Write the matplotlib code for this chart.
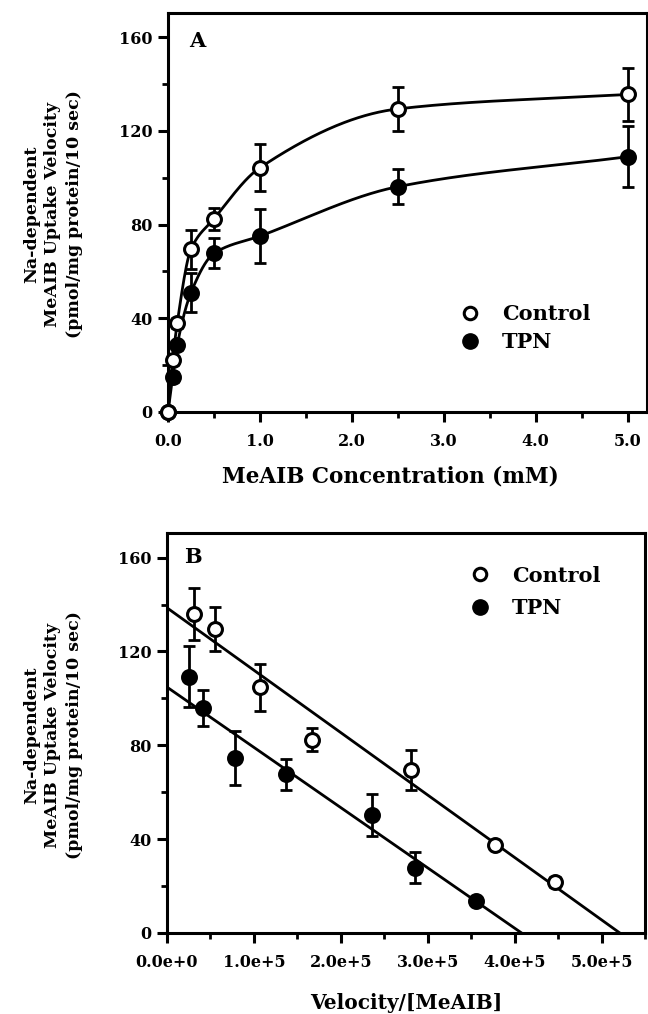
import numpy as np
import matplotlib
matplotlib.use("Agg")
import matplotlib.pyplot as plt
from matplotlib.lines import Line2D
from matplotlib.ticker import MultipleLocator

# Panel A: uptake vs concentration
conc = [0.0, 0.05, 0.1, 0.25, 0.5, 1.0, 2.5, 5.0]
ctrl_v = [0.0, 22, 38, 69.5, 82.5, 104.3, 129.4, 135.6]
ctrl_err = [0, 2, 2, 8.3, 4.6, 10, 9.5, 11.2]
tpn_v = [0.0, 15, 28.5, 51, 67.7, 75.1, 96.2, 109]
tpn_err = [0, 2, 2, 8.5, 6.4, 11.5, 7.4, 13]

# Panel B: Eadie-Hofstee
ctrl_bx = [0.306e5, 0.553e5, 1.073e5, 1.674e5, 2.81e5, 3.776e5, 4.47e5]
ctrl_by = [136.0, 129.6, 104.8, 82.4, 69.3, 37.6, 21.7]
ctrl_berr = [11, 9.5, 10, 5, 8.5, 1.5, 2]
tpn_bx = [0.256e5, 0.41e5, 0.78e5, 1.367e5, 2.356e5, 2.85e5, 3.56e5]
tpn_by = [109.3, 96.0, 74.7, 67.6, 50.4, 27.9, 13.6]
tpn_berr = [13, 7.6, 11.5, 6.5, 9, 6.5, 1.5]

# fitted lines: y-intercept and x-intercept
ctrl_fit = [138.6, 5.21e5]
tpn_fit = [104.8, 4.08e5]

xticks_a = [0, 1, 2, 3, 4, 5]
xticklabels_a = ["0.0", "1.0", "2.0", "3.0", "4.0", "5.0"]
xticks_b = [0, 1e5, 2e5, 3e5, 4e5, 5e5]
xticklabels_b = ["0.0e+0", "1.0e+5", "2.0e+5", "3.0e+5", "4.0e+5", "5.0e+5"]
yticks = [0, 40, 80, 120, 160]

plt.rcParams["font.family"] = "DejaVu Serif"
plt.rcParams["font.weight"] = "bold"


def pchip(x, y, xs):
    # monotone cubic curve through the points
    x = np.asarray(x, float)
    y = np.asarray(y, float)
    h = np.diff(x)
    d = np.diff(y) / h
    m = np.zeros_like(y)
    for k in range(1, len(x) - 1):
        if d[k - 1] * d[k] > 0:
            w1 = 2 * h[k] + h[k - 1]
            w2 = h[k] + 2 * h[k - 1]
            m[k] = (w1 + w2) / (w1 / d[k - 1] + w2 / d[k])
    m[0] = d[0]
    m[-1] = d[-1]
    out = np.empty_like(xs)
    for i, xv in enumerate(xs):
        k = min(np.searchsorted(x, xv, side="right") - 1, len(x) - 2)
        t = (xv - x[k]) / h[k]
        h00 = 2 * t**3 - 3 * t**2 + 1
        h10 = t**3 - 2 * t**2 + t
        h01 = -2 * t**3 + 3 * t**2
        h11 = t**3 - t**2
        out[i] = h00 * y[k] + h10 * h[k] * m[k] + h01 * y[k + 1] + h11 * h[k] * m[k + 1]
    return out


fig = plt.figure(figsize=(6.48, 10.14), dpi=100)
axA = fig.add_axes([0.2593, 0.5937, 0.739, 0.3938])
axB = fig.add_axes([0.2577, 0.0799, 0.7377, 0.3945])

mk = dict(markersize=10, markeredgewidth=2.2, markeredgecolor="black")
eb = dict(fmt="none", ecolor="black", elinewidth=2, capsize=4, capthick=2)


def style(ax):
    for s in ax.spines.values():
        s.set_linewidth(2.2)
    ax.tick_params(which="major", direction="out", length=7, width=2.2,
                   labelsize=11.5, pad=4)
    ax.tick_params(axis="x", which="major", pad=8)
    ax.tick_params(which="minor", direction="out", length=4, width=2)
    ax.yaxis.set_minor_locator(MultipleLocator(20))
    ax.set_yticks(yticks)
    ax.set_ylim(0, 170.5)
    for lab in ax.get_xticklabels() + ax.get_yticklabels():
        lab.set_fontweight("bold")


# ---- Panel A
xs = np.linspace(0, 5, 400)
axA.plot(xs, pchip(conc, ctrl_v, xs), color="black", lw=2)
axA.plot(xs, pchip(conc, tpn_v, xs), color="black", lw=2)
axA.errorbar(conc, ctrl_v, yerr=ctrl_err, **eb)
axA.errorbar(conc, tpn_v, yerr=tpn_err, **eb)
axA.plot(conc, tpn_v, "o", color="black", clip_on=False, zorder=5, **mk)
axA.plot(conc, ctrl_v, "o", markerfacecolor="white", clip_on=False, zorder=6, **mk)
axA.set_xlim(0, 5.21)
axA.set_xticks(xticks_a)
axA.set_xticklabels(xticklabels_a)
axA.xaxis.set_minor_locator(MultipleLocator(0.5))
style(axA)
axA.set_xlabel("MeAIB Concentration (mM)", fontsize=15.5, fontweight="bold", labelpad=10)
axA.xaxis.set_label_coords(0.465, -0.135)
axA.text(0.06, 0.93, "A", transform=axA.transAxes, fontsize=15, fontweight="bold",
         va="center", ha="center")

# ---- Panel B
for fit in (ctrl_fit, tpn_fit):
    axB.plot([0, fit[1]], [fit[0], 0], color="black", lw=2)
axB.errorbar(ctrl_bx, ctrl_by, yerr=ctrl_berr, **eb)
axB.errorbar(tpn_bx, tpn_by, yerr=tpn_berr, **eb)
axB.plot(tpn_bx, tpn_by, "o", color="black", zorder=5, **mk)
axB.plot(ctrl_bx, ctrl_by, "o", markerfacecolor="white", zorder=6, **mk)
axB.set_xlim(0, 5.5e5)
axB.set_xticks(xticks_b)
axB.set_xticklabels(xticklabels_b)
axB.xaxis.set_minor_locator(MultipleLocator(0.5e5))
style(axB)
axB.set_xlabel("Velocity/[MeAIB]", fontsize=14.5, fontweight="bold", labelpad=16)
axB.text(0.055, 0.94, "B", transform=axB.transAxes, fontsize=15, fontweight="bold",
         va="center", ha="center")

ylab = "Na-dependent\nMeAIB Uptake Velocity\n(pmol/mg protein/10 sec)"
for ycen in (214, 735):
    fig.text(53 / 648, 1 - ycen / 1014, ylab, rotation=90, ha="center", va="center",
             multialignment="center", fontsize=12.5, fontweight="bold", linespacing=1.35)

# legends
handles = [Line2D([], [], ls="none", marker="o", markerfacecolor="white",
                  markeredgecolor="black", markersize=9, markeredgewidth=2.2),
           Line2D([], [], ls="none", marker="o", color="black", markersize=11)]
for ax, xl, ycen, sp in ((axA, 460, 328, 0.4), (axB, 470, 592, 0.6)):
    ax.legend(handles, ["Control", "TPN"], loc="center left", frameon=False,
              bbox_to_anchor=(xl / 648, 1 - ycen / 1014),
              bbox_transform=fig.transFigure, prop={"size": 15, "weight": "bold"},
              handlelength=1.0, handletextpad=1.0, labelspacing=sp,
              borderpad=0, borderaxespad=0)

fig.savefig("out.png", dpi=100)
